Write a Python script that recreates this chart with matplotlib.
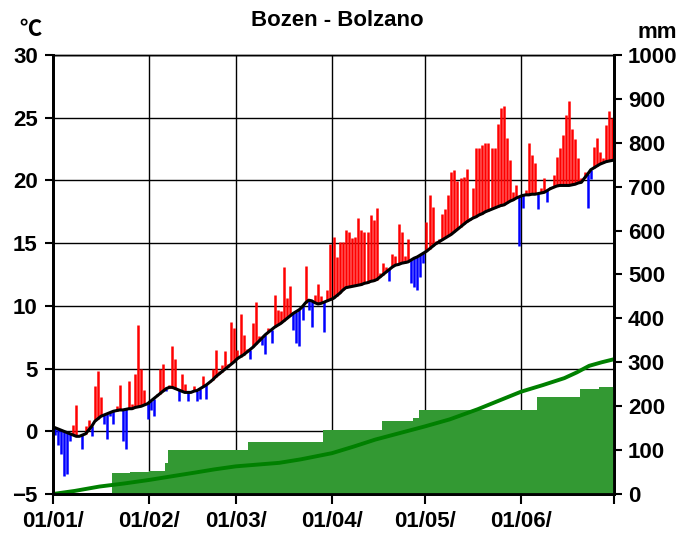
import numpy as np
import matplotlib
matplotlib.use('Agg')
import matplotlib.pyplot as plt

# ---------------- data ----------------
month_labels = ["01/01/", "01/02/", "01/03/", "01/04/", "01/05/", "01/06/", ""]
month_starts = [0, 31, 59, 90, 120, 151, 181]

# daily actual mean temperature (°C), 1 Jan .. 30 Jun
temp_jan = [-0.3, -1.1, -1.8, -3.6, -3.4, -0.8, 0.5, 2.1, -0.4, -1.4,
            0.4, 0.9, -0.4, 3.6, 4.8, 2.7, 0.6, -0.6, 1.2, 0.6,
            2.0, 3.7, -0.8, -1.4, 4.0, 2.2, 4.6, 8.5, 5.0, 3.3, 1.0]
temp_feb = [1.7, 1.2, 3.0, 5.0, 5.4, 3.2, 3.7, 6.8, 5.8, 2.4,
            4.6, 3.8, 2.4, 3.2, 3.6, 2.4, 2.6, 4.4, 2.6, 4.0,
            5.0, 6.5, 4.8, 5.3, 6.4, 5.4, 8.7, 8.2]
temp_mar = [6.5, 9.35, 7.7, 6.6, 5.8, 8.6, 10.3, 7.6, 6.9, 6.2,
            8.2, 7.0, 10.9, 9.7, 9.6, 13.1, 10.65, 11.6, 8.1, 7.0,
            6.8, 8.9, 13.2, 9.7, 8.3, 10.9, 11.75, 10.8, 7.9, 11.3, 14.9]
temp_apr = [15.5, 13.9, 15.1, 15.1, 16.05, 15.9, 15.4, 15.5, 17.0, 16.05,
            15.9, 15.9, 17.25, 16.85, 17.8, 12.6, 13.4, 13.1, 12.0, 14.1,
            14.0, 16.5, 15.9, 14.0, 15.3, 11.85, 11.5, 11.3, 12.3, 13.4]
temp_may = [16.7, 18.8, 17.9, 15.2, 15.3, 17.3, 17.7, 18.8, 20.65, 20.8,
            19.96, 20.2, 20.3, 20.9, 17.0, 19.4, 22.6, 22.6, 22.8, 23.0,
            23.0, 22.6, 22.6, 24.5, 25.8, 25.9, 23.4, 21.6, 19.1, 19.6, 14.8]
temp_jun = [17.8, 19.2, 23.0, 22.0, 21.4, 17.7, 19.4, 20.2, 18.3, 19.5,
            20.4, 21.9, 22.6, 23.6, 25.2, 26.3, 24.1, 23.3, 21.8, 20.2,
            20.65, 17.8, 20.1, 22.7, 23.4, 22.3, 21.8, 24.4, 25.5, 25.0]

# long-term (climatological) daily mean temperature (°C)
norm_jan = [0.3, 0.2, 0.1, 0.0, -0.1, -0.2, -0.3, -0.4, -0.4, -0.3,
            -0.2, 0.1, 0.4, 0.8, 1.0, 1.2, 1.3, 1.4, 1.5, 1.6,
            1.65, 1.7, 1.7, 1.75, 1.8, 1.8, 1.9, 1.95, 2.0, 2.1, 2.2]
norm_feb = [2.4, 2.6, 2.8, 3.0, 3.2, 3.4, 3.5, 3.5, 3.4, 3.3,
            3.2, 3.1, 3.1, 3.1, 3.2, 3.25, 3.4, 3.55, 3.7, 3.9,
            4.1, 4.35, 4.55, 4.75, 4.95, 5.15, 5.35, 5.55]
norm_mar = [5.8, 5.95, 6.1, 6.3, 6.5, 6.7, 6.95, 7.2, 7.45, 7.7,
            7.9, 8.1, 8.3, 8.45, 8.6, 8.8, 9.0, 9.2, 9.4, 9.55,
            9.7, 9.95, 10.25, 10.45, 10.4, 10.25, 10.15, 10.2, 10.3, 10.4, 10.5]
norm_apr = [10.6, 10.8, 11.0, 11.25, 11.45, 11.5, 11.55, 11.6, 11.65, 11.7,
            11.8, 11.85, 11.95, 12.0, 12.1, 12.3, 12.5, 12.7, 12.9, 13.1,
            13.25, 13.3, 13.4, 13.45, 13.5, 13.65, 13.8, 13.9, 14.05, 14.2]
norm_may = [14.35, 14.55, 14.75, 14.95, 15.1, 15.25, 15.4, 15.55, 15.7, 15.9,
            16.1, 16.3, 16.5, 16.7, 16.85, 17.0, 17.1, 17.25, 17.35, 17.5,
            17.6, 17.7, 17.8, 17.9, 18.0, 18.05, 18.2, 18.35, 18.45, 18.6, 18.7]
norm_jun = [18.8, 18.85, 18.85, 18.9, 18.9, 18.95, 19.0, 19.05, 19.2, 19.35,
            19.45, 19.55, 19.6, 19.6, 19.6, 19.6, 19.65, 19.7, 19.8, 19.85,
            20.2, 20.5, 20.85, 21.0, 21.15, 21.3, 21.4, 21.5, 21.55, 21.6]

# daily precipitation events (day index, mm)
precip_day = [19, 25, 31, 36, 37, 63, 87, 106, 116, 118, 156, 170, 176]
precip_mm = [48.5, 2.0, 2.5, 17.0, 30.0, 18.0, 28.0, 20.0, 6.0, 19.0, 31.0, 17.0, 4.0]

# long-term cumulative precipitation (mm)
clim_day = [0, 7, 15, 23, 31, 38, 46, 52, 59, 66, 73, 80, 90, 97, 104,
            112, 120, 128, 137, 144, 151, 158, 165, 169, 173, 177, 181]
clim_mm = [0, 7, 17, 24, 32, 40, 49, 56, 63, 67, 71, 79, 93, 108, 124,
           139, 154, 170, 193, 213, 233, 248, 264, 277, 292, 300, 307]

# ---------------- assemble ----------------
temp = np.array(temp_jan + temp_feb + temp_mar + temp_apr + temp_may + temp_jun)
norm = np.array(norm_jan + norm_feb + norm_mar + norm_apr + norm_may + norm_jun)
ndays = len(temp)
xday = np.arange(ndays) + 0.5

daily_p = np.zeros(ndays)
for d, p in zip(precip_day, precip_mm):
    daily_p[d] += p
cum_p = np.cumsum(daily_p)

# ---------------- plot ----------------
plt.rcParams['font.family'] = ['Liberation Sans', 'DejaVu Sans']
plt.rcParams['font.weight'] = 'bold'
FS = 16

fig = plt.figure(figsize=(6.82, 5.35), dpi=100)
ax = fig.add_axes([53/682, 41/535, 561/682, 439/535])
ax2 = ax.twinx()

ax.set_xlim(0, 181)
ax.set_ylim(-5, 30)
ax2.set_ylim(0, 1000)

ax.set_yticks(np.arange(-5, 31, 5))
ax2.set_yticks(np.arange(0, 1001, 100))
ax.set_xticks(month_starts)
ax.set_xticklabels(month_labels)

ax.grid(True, color='black', lw=1.0, zorder=0)
ax.set_axisbelow(True)

warm = temp >= norm
ax.vlines(xday[warm], norm[warm], temp[warm], colors='#ff0000', lw=1.8, zorder=2)
ax.vlines(xday[~warm], temp[~warm], norm[~warm], colors='#0000ff', lw=1.8, zorder=2)
ax.plot(xday, norm, color='black', lw=2.2, zorder=3)

edges = np.arange(ndays + 1)
ax2.fill_between(edges, np.append(cum_p, cum_p[-1]), 0, step='post',
                 color='#339933', lw=0, zorder=1)
ax2.plot(clim_day, clim_mm, color='#008000', lw=2.8, zorder=2)

for a in (ax, ax2):
    a.spines['left'].set_linewidth(2.0)
    a.spines['right'].set_linewidth(2.0)
    a.spines['bottom'].set_linewidth(2.0)
    a.spines['top'].set_linewidth(1.0)

ax.tick_params(axis='x', direction='out', length=7, width=1.5, pad=5, labelsize=FS)
ax.tick_params(axis='y', direction='out', length=6, width=1.5, pad=5, labelsize=FS)
ax2.tick_params(axis='y', direction='out', length=6, width=1.5, pad=4, labelsize=FS)
for lab in ax.get_xticklabels() + ax.get_yticklabels() + ax2.get_yticklabels():
    lab.set_fontweight('bold')

fig.text(337/682, 1 - 20/535, "Bozen - Bolzano", ha='center', va='center',
         fontsize=FS, fontweight='bold')
fig.text(31/682, 1 - 30/535, "℃", ha='center', va='center', fontsize=FS,
         fontweight='bold', family=['Noto Sans CJK SC', 'DejaVu Sans'])
fig.text(657/682, 1 - 32/535, "mm", ha='center', va='center', fontsize=FS,
         fontweight='bold')

fig.savefig('out.png', dpi=100)
